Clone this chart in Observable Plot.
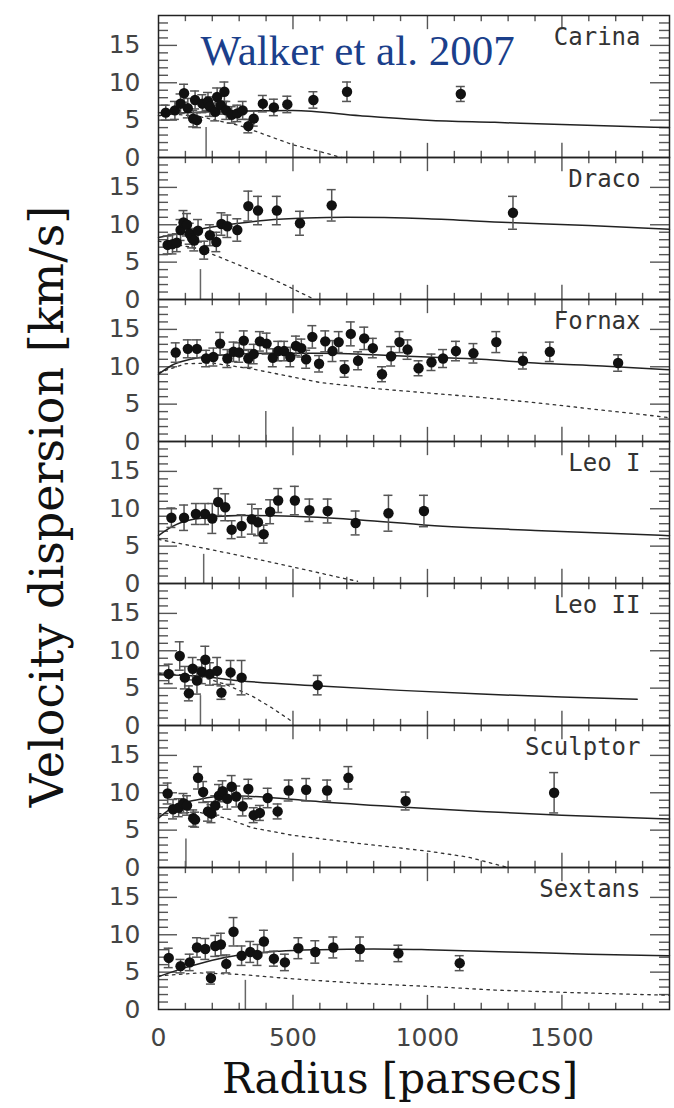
<!DOCTYPE html>
<html>
<head>
<meta charset="utf-8">
<script src="https://cdn.jsdelivr.net/npm/d3@7"></script>
<script src="https://cdn.jsdelivr.net/npm/@observablehq/plot@0.6"></script>
<style>
  html, body { margin: 0; padding: 0; background: #fff; }
  #chart { width: 674px; height: 1108px; }
</style>
</head>
<body>
<div id="chart"></div>
<script>
// ---------- data ----------
const galaxies = ["Carina", "Draco", "Fornax", "Leo I", "Leo II", "Sculptor", "Sextans"];
const titleText = "Walker et al. 2007";
const xLabel = "Radius [parsecs]";
const yLabel = "Velocity dispersion [km/s]";

const xTickLabels = [0, 500, 1000, 1500];
const yTickLabels = [0, 5, 10, 15];
const xMajor = [500, 1000, 1500];
const xMinor = [100, 200, 300, 400, 600, 700, 800, 900, 1100, 1200, 1300, 1400, 1600, 1700, 1800];
const yMajor = [5, 10, 15];
const yMinor = [1, 2, 3, 4, 6, 7, 8, 9, 11, 12, 13, 14, 16, 17, 18];

// observed dispersion profiles: radius (pc), sigma (km/s), error (km/s)
const carinaR = [27, 61, 82, 95, 109, 129, 136, 143, 163, 184, 191, 211, 218, 232, 245, 252, 272, 293, 313, 334, 354, 388, 429, 479, 576, 701, 1124];
const carinaV = [6.0, 6.3, 7.2, 8.6, 6.6, 5.2, 7.7, 5.0, 7.2, 7.5, 6.8, 6.1, 8.1, 7.0, 8.8, 6.3, 5.7, 5.9, 6.3, 4.2, 5.2, 7.2, 6.7, 7.1, 7.7, 8.8, 8.5];
const carinaE = [1.0, 1.2, 1.3, 1.2, 1.3, 1.1, 1.2, 1.0, 1.2, 1.2, 1.3, 1.2, 1.2, 1.2, 1.3, 1.2, 1.1, 1.1, 1.2, 0.9, 1.0, 1.1, 1.1, 1.1, 1.1, 1.3, 1.0];

const dracoR = [34, 52, 68, 82, 93, 106, 116, 125, 133, 147, 170, 191, 215, 234, 256, 293, 334, 370, 440, 526, 644, 1318];
const dracoV = [7.3, 7.4, 7.6, 9.3, 10.3, 10.0, 8.8, 8.2, 7.9, 9.2, 6.6, 8.6, 7.7, 10.1, 9.8, 9.3, 12.5, 11.9, 11.9, 10.2, 12.6, 11.6];
const dracoE = [1.2, 1.3, 1.2, 1.4, 1.6, 1.5, 1.4, 1.3, 1.4, 1.5, 1.2, 1.4, 1.3, 1.5, 1.5, 1.5, 2.0, 1.9, 1.9, 1.6, 2.1, 2.2];

const fornaxR = [64, 109, 143, 177, 204, 229, 256, 279, 300, 317, 334, 354, 377, 402, 425, 445, 467, 490, 511, 531, 549, 572, 597, 620, 647, 670, 692, 715, 742, 765, 797, 831, 865, 896, 926, 967, 1015, 1058, 1106, 1171, 1256, 1355, 1455, 1709];
const fornaxV = [11.9, 12.4, 12.4, 11.1, 11.3, 13.1, 11.1, 12.0, 11.9, 13.5, 11.1, 11.7, 13.4, 13.1, 11.2, 12.1, 12.1, 11.3, 12.8, 12.5, 11.0, 14.0, 10.4, 13.4, 12.1, 13.3, 9.7, 14.4, 10.8, 13.8, 12.5, 9.0, 11.4, 13.3, 12.3, 9.8, 10.6, 11.1, 12.1, 11.8, 13.3, 10.8, 12.0, 10.5];
const fornaxE = [1.3, 1.2, 1.2, 1.1, 1.2, 1.5, 1.2, 1.3, 1.3, 1.3, 1.2, 1.3, 1.3, 1.4, 1.2, 1.3, 1.3, 1.3, 1.3, 1.2, 1.2, 1.5, 1.1, 1.4, 1.4, 1.4, 1.1, 1.6, 1.2, 1.5, 1.3, 1.0, 1.3, 1.4, 1.3, 1.0, 1.1, 1.2, 1.3, 1.3, 1.4, 1.1, 1.3, 1.1];

const leo1R = [48, 95, 139, 173, 200, 222, 248, 272, 309, 347, 370, 391, 415, 445, 507, 561, 629, 733, 855, 987];
const leo1V = [8.8, 8.8, 9.3, 9.3, 8.7, 10.9, 10.2, 7.2, 7.7, 8.6, 8.2, 6.6, 9.6, 11.1, 11.1, 9.8, 9.7, 8.1, 9.4, 9.7];
const leo1E = [1.3, 1.7, 1.4, 1.4, 2.0, 1.8, 1.8, 1.2, 1.5, 2.0, 1.8, 1.2, 1.6, 1.6, 1.9, 1.5, 1.6, 1.6, 2.4, 2.1];

const leo2R = [38, 79, 98, 113, 127, 143, 161, 174, 191, 218, 234, 268, 309, 592];
const leo2V = [6.9, 9.3, 6.4, 4.3, 7.6, 6.0, 7.2, 8.8, 6.9, 7.3, 4.4, 7.1, 6.4, 5.4];
const leo2E = [1.3, 1.9, 1.5, 1.0, 1.5, 1.8, 1.6, 1.8, 1.5, 1.8, 0.9, 1.6, 2.3, 1.3];

const sculptorR = [34, 54, 75, 93, 106, 129, 136, 147, 166, 184, 197, 211, 225, 238, 256, 272, 289, 313, 334, 354, 377, 406, 443, 484, 549, 627, 706, 919, 1471];
const sculptorV = [9.9, 7.8, 8.0, 8.6, 8.3, 6.6, 6.4, 12.0, 10.1, 7.5, 7.2, 8.3, 9.6, 10.2, 9.2, 10.8, 9.5, 8.2, 10.5, 7.0, 7.3, 9.3, 7.5, 10.3, 10.4, 10.3, 12.0, 8.9, 10.0];
const sculptorE = [1.4, 1.3, 1.2, 1.3, 1.3, 1.1, 1.0, 1.5, 1.4, 1.3, 1.2, 1.3, 1.5, 1.4, 1.4, 1.5, 1.4, 1.3, 1.3, 1.0, 1.0, 1.3, 1.0, 1.4, 1.5, 1.4, 1.5, 1.2, 2.7];

const sextansR = [38, 82, 116, 143, 174, 195, 211, 232, 252, 279, 309, 341, 368, 392, 429, 470, 520, 583, 650, 749, 892, 1120];
const sextansV = [6.9, 5.8, 6.3, 8.3, 8.1, 4.2, 8.5, 8.7, 6.1, 10.4, 7.2, 7.7, 7.3, 9.1, 6.8, 6.3, 8.2, 7.7, 8.3, 8.1, 7.5, 6.2];
const sextansE = [1.3, 0.9, 1.1, 1.3, 1.4, 0.8, 1.4, 1.5, 1.2, 1.9, 1.3, 1.4, 1.4, 1.5, 1.0, 1.1, 1.4, 1.5, 1.4, 1.6, 1.1, 1.0];

// best-fit model (solid) and comparison model (dashed)
const carinaModelR = [0, 100, 300, 500, 750, 1000, 1250, 1500, 1900];
const carinaModelV = [5.6, 6.0, 6.2, 6.3, 5.6, 5.0, 4.7, 4.4, 4.0];
const carinaDashR = [0, 150, 300, 400, 500, 600, 680];
const carinaDashV = [6.0, 5.5, 4.3, 3.0, 1.7, 0.8, 0];

const dracoModelR = [0, 100, 200, 300, 400, 550, 700, 1000, 1300, 1600, 1900];
const dracoModelV = [8.3, 9.0, 9.7, 10.2, 10.6, 10.9, 11.0, 10.8, 10.3, 9.9, 9.4];
const dracoDashR = [0, 150, 300, 450, 580];
const dracoDashV = [7.8, 6.8, 4.6, 2.3, 0];

const fornaxModelR = [0, 50, 120, 250, 400, 600, 800, 1000, 1200, 1400, 1650, 1900];
const fornaxModelV = [9.0, 10.2, 11.0, 11.6, 11.8, 11.8, 11.6, 11.3, 11.0, 10.5, 10.1, 9.6];
const fornaxDashR = [0, 100, 200, 350, 600, 800, 1000, 1200, 1400, 1650, 1900];
const fornaxDashV = [9.2, 10.4, 10.5, 9.7, 7.9, 7.1, 6.5, 5.9, 5.2, 4.2, 3.2];

const leo1ModelR = [0, 50, 130, 300, 500, 750, 1000, 1400, 1900];
const leo1ModelV = [6.4, 7.6, 8.6, 9.1, 9.0, 8.5, 7.8, 7.1, 6.4];
const leo1DashR = [0, 200, 400, 550, 700, 740];
const leo1DashV = [5.9, 4.5, 3.0, 1.8, 0.6, 0.3];

const leo2ModelR = [0, 150, 300, 600, 900, 1200, 1500, 1780];
const leo2ModelV = [6.8, 6.6, 6.0, 5.3, 4.7, 4.2, 3.8, 3.5];
const leo2DashR = [0, 150, 250, 350, 420, 490];
const leo2DashV = [7.0, 6.6, 5.5, 3.9, 2.4, 0.7];

const sculptorModelR = [0, 60, 150, 250, 400, 600, 900, 1200, 1500, 1900];
const sculptorModelV = [6.6, 8.2, 9.1, 9.6, 9.4, 8.8, 8.1, 7.5, 7.0, 6.5];
const sculptorDashR = [0, 150, 250, 350, 500, 750, 1000, 1150, 1300];
const sculptorDashV = [7.2, 7.4, 6.6, 5.3, 4.3, 3.2, 2.2, 1.4, 0];

const sextansModelR = [0, 100, 200, 300, 450, 600, 800, 1000, 1300, 1600, 1900];
const sextansModelV = [4.4, 5.6, 6.6, 7.3, 7.8, 8.0, 8.1, 8.0, 7.7, 7.4, 7.2];
const sextansDashR = [0, 150, 300, 500, 750, 1000, 1250, 1500, 1900];
const sextansDashV = [4.5, 4.9, 4.7, 4.1, 3.5, 3.1, 2.6, 2.3, 1.9];

// stellar core radius markers
const coreR = [177, 156, 399, 168, 156, 102, 323];
const coreH = [4.0, 4.0, 4.0, 3.9, 4.0, 3.8, 3.9];

// ---------- tables ----------
const obsArrays = [
  [carinaR, carinaV, carinaE], [dracoR, dracoV, dracoE], [fornaxR, fornaxV, fornaxE],
  [leo1R, leo1V, leo1E], [leo2R, leo2V, leo2E], [sculptorR, sculptorV, sculptorE],
  [sextansR, sextansV, sextansE]
];
const modelArrays = [
  [carinaModelR, carinaModelV], [dracoModelR, dracoModelV], [fornaxModelR, fornaxModelV],
  [leo1ModelR, leo1ModelV], [leo2ModelR, leo2ModelV], [sculptorModelR, sculptorModelV],
  [sextansModelR, sextansModelV]
];
const dashArrays = [
  [carinaDashR, carinaDashV], [dracoDashR, dracoDashV], [fornaxDashR, fornaxDashV],
  [leo1DashR, leo1DashV], [leo2DashR, leo2DashV], [sculptorDashR, sculptorDashV],
  [sextansDashR, sextansDashV]
];

const points = galaxies.flatMap((g, k) => obsArrays[k][0].map((r, i) => ({g, r, v: obsArrays[k][1][i], e: obsArrays[k][2][i]})));
const model = galaxies.flatMap((g, k) => modelArrays[k][0].map((r, i) => ({g, r, v: modelArrays[k][1][i]})));
const dashed = galaxies.flatMap((g, k) => dashArrays[k][0].map((r, i) => ({g, r, v: dashArrays[k][1][i]})));
const core = galaxies.map((g, k) => ({g, r: coreR[k], h: coreH[k]}));

// ---------- layout ----------
const W = 674, H = 1108, mL = 158, mR = 5, mT = 12, mB = 96;
const panelH = (H - mT - mB) / galaxies.length;
const panelW = W - mL - mR;
const tickStroke = "#555";

const chart = Plot.plot({
  width: W, height: H,
  marginLeft: mL, marginRight: mR, marginTop: mT, marginBottom: mB,
  style: {background: "#fff", fontFamily: "DejaVu Sans", overflow: "visible"},
  x: {domain: [0, 1900]},
  y: {domain: [0, 19]},
  fy: {domain: galaxies, padding: 0, axis: null, label: null},
  marks: [
    // inward ticks (x: top & bottom, y: left & right)
    Plot.tickX(xMinor, {x: d => d, insetBottom: panelH - 7, stroke: tickStroke, strokeWidth: 1.4}),
    Plot.tickX(xMinor, {x: d => d, insetTop: panelH - 7, stroke: tickStroke, strokeWidth: 1.4}),
    Plot.tickX(xMajor, {x: d => d, insetBottom: panelH - 15, stroke: tickStroke, strokeWidth: 1.4}),
    Plot.tickX(xMajor, {x: d => d, insetTop: panelH - 15, stroke: tickStroke, strokeWidth: 1.4}),
    Plot.tickY(yMinor, {y: d => d, insetRight: panelW - 10, stroke: tickStroke, strokeWidth: 1.4}),
    Plot.tickY(yMinor, {y: d => d, insetLeft: panelW - 10, stroke: tickStroke, strokeWidth: 1.4}),
    Plot.tickY(yMajor, {y: d => d, insetRight: panelW - 19, stroke: tickStroke, strokeWidth: 1.4}),
    Plot.tickY(yMajor, {y: d => d, insetLeft: panelW - 19, stroke: tickStroke, strokeWidth: 1.4}),
    // core radius markers
    Plot.ruleX(core, {x: "r", y1: 0, y2: "h", fy: "g", stroke: "#666", strokeWidth: 1.5}),
    // models
    Plot.line(dashed, {x: "r", y: "v", fy: "g", stroke: "#333", strokeWidth: 1.3, strokeDasharray: "2.5,4.5"}),
    Plot.line(model, {x: "r", y: "v", fy: "g", stroke: "#222", strokeWidth: 1.5, curve: "monotone-x"}),
    // error bars
    Plot.ruleX(points, {x: "r", y1: d => d.v - d.e, y2: d => d.v + d.e, fy: "g", stroke: "#555", strokeWidth: 1.5}),
    Plot.ruleY(points, {y: d => d.v + d.e, x1: "r", x2: "r", insetLeft: -4.5, insetRight: -4.5, fy: "g", stroke: "#555", strokeWidth: 1.5}),
    Plot.ruleY(points, {y: d => d.v - d.e, x1: "r", x2: "r", insetLeft: -4.5, insetRight: -4.5, fy: "g", stroke: "#555", strokeWidth: 1.5}),
    Plot.dot(points, {x: "r", y: "v", fy: "g", r: 5.2, fill: "#111", stroke: "none"}),
    // frame
    Plot.frame({stroke: "#222", strokeWidth: 1.5}),
    // axes
    Plot.axisY({ticks: yTickLabels, tickSize: 0, tickPadding: 18, fontSize: 25, fill: "#444", label: null}),
    Plot.axisX({ticks: xTickLabels, tickFormat: d => String(d), tickSize: 0, tickPadding: 19, fontSize: 25, fill: "#444", label: null}),
    // panel labels
    Plot.text(galaxies, {fy: d => d, text: d => d, frameAnchor: "top-right", dx: -29, dy: 22, lineAnchor: "middle", textAnchor: "end", fontFamily: "DejaVu Sans Mono", fontSize: 24, fill: "#333"}),
    // title
    Plot.text([{g: "Carina", t: titleText}], {fy: "g", text: "t", frameAnchor: "top-left", dx: 42, dy: 36, lineAnchor: "middle", textAnchor: "start", fontFamily: "Liberation Serif", fontSize: 43, fill: "#1b3f8b"}),
    // axis titles
    Plot.text([{g: "Sextans", t: xLabel}], {fy: "g", text: "t", frameAnchor: "bottom", dx: -14, dy: 70, lineAnchor: "middle", textAnchor: "middle", fontFamily: "DejaVu Serif", fontSize: 42, fill: "#111"}),
    Plot.text([{g: "Leo I", t: yLabel}], {fy: "g", text: "t", frameAnchor: "left", dx: -110, dy: -6, rotate: -90, lineAnchor: "middle", textAnchor: "middle", fontFamily: "DejaVu Serif", fontSize: 46, fill: "#111"})
  ]
});

document.getElementById("chart").appendChild(chart);
</script>
</body>
</html>
